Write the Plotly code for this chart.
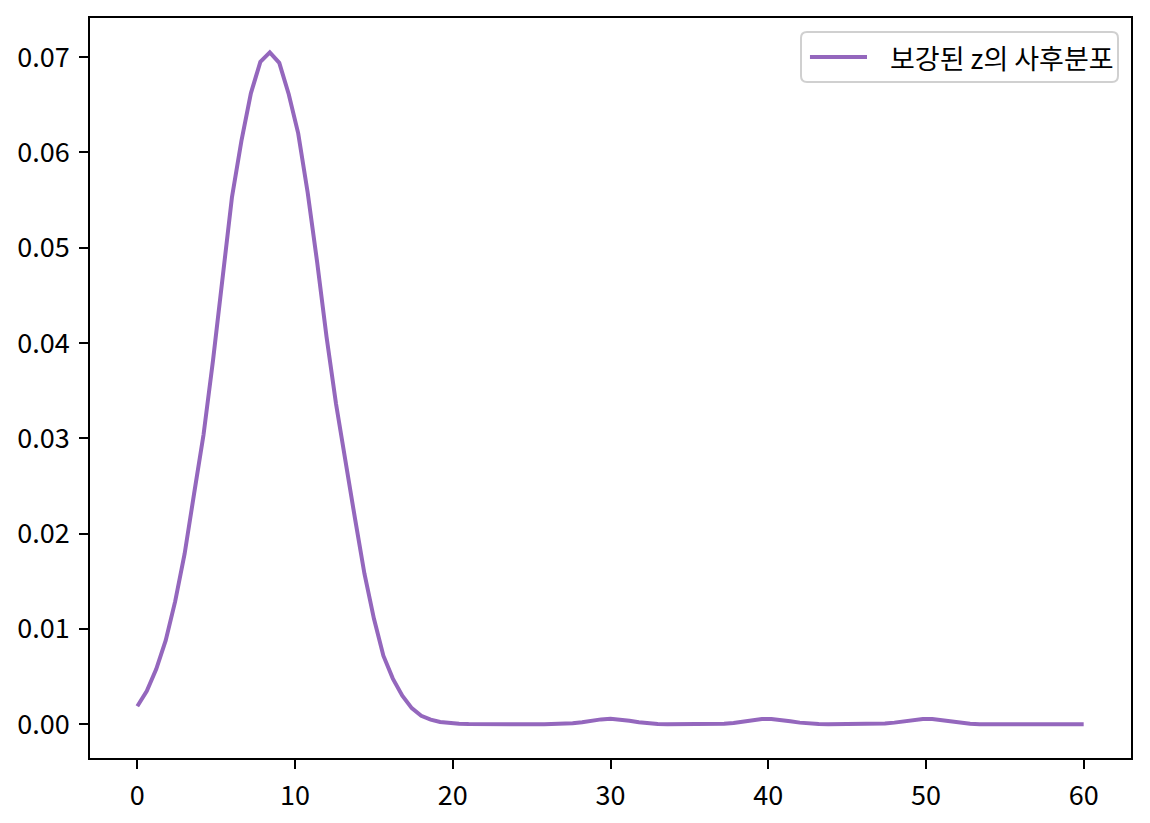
import numpy as np
import plotly.graph_objects as go

# grid of z values (step 0.6 from 0 to 60)
z_values = [round(0.6 * k, 1) for k in range(101)]

# posterior density
posterior = [
    0.0019, 0.0035, 0.0058, 0.0088, 0.0129, 0.0179, 0.0242, 0.0304, 0.0382, 0.0465,
    0.0553, 0.0612, 0.0662, 0.0695, 0.0705, 0.0694, 0.0661, 0.0620, 0.0558, 0.0485,
    0.0406, 0.0336, 0.0273, 0.0216, 0.0158, 0.0111, 0.0072, 0.0048, 0.0030, 0.0017,
    0.0009, 0.0005, 0.00025, 0.00012, 0.00007, 0.00004, 0.00002, 0.00001, 0.000005, 0.000003,
    0.000002, 0.000002, 0.000003, 0.000005, 0.000013, 0.00004, 0.00011, 0.00022, 0.00038, 0.00052,
    0.00058, 0.00052, 0.00038, 0.00022, 0.00011, 0.00004, 0.000013, 0.000004, 0.000002, 0.000003,
    0.00001, 0.00002, 0.00006, 0.00014, 0.00027, 0.00043, 0.00055, 0.00057, 0.00048, 0.00032,
    0.00018, 0.00008, 0.00003, 0.00001, 0.000004, 0.000002, 0.000004, 0.00001, 0.00003, 0.00008,
    0.00018, 0.00032, 0.00048, 0.00057, 0.00055, 0.00043, 0.00027, 0.00014, 0.00006, 0.00002,
    0.00001, 0.000004, 0.000002, 0.000001, 0.000001, 0.000001, 0.000001, 0.000001, 0.000001, 0.000001,
    0.000001,
]

series_name = "보강된 z의 사후분포"
x_ticks = [0, 10, 20, 30, 40, 50, 60]
y_ticks = [0.00, 0.01, 0.02, 0.03, 0.04, 0.05, 0.06, 0.07]

FONT = "Noto Sans CJK KR"
LINE_COLOR = "#9467bd"
fig = go.Figure()
fig.add_trace(go.Scatter(
    x=z_values, y=posterior, mode="lines", name=series_name,
    line=dict(color=LINE_COLOR, width=4),
    showlegend=False,
))

axis_common = dict(
    showgrid=False, zeroline=False, showline=True, linecolor="black", linewidth=1.8,
    mirror=True, ticks="outside", ticklen=9, tickwidth=1.8, tickcolor="black",
    tickfont=dict(family=FONT, size=27, color="black"), automargin=False,
)
fig.update_xaxes(range=[-3, 63], tickvals=x_ticks, ticktext=[str(v) for v in x_ticks],
                 ticklabelstandoff=4, **axis_common)
fig.update_yaxes(range=[-0.00353, 0.0741], tickvals=y_ticks, ticktext=[f"{v:.2f}" for v in y_ticks],
                 ticklabelstandoff=4, **axis_common)

# custom legend box (matplotlib style) in plot-area paper coordinates
PW, PH = 1041.0, 740.0
lx0, lx1 = 0.683, 0.9875
ly0, ly1 = 0.9135, 0.981
rx, ry = 6 / PW, 6 / PH
path = (f"M{lx0+rx},{ly1} L{lx1-rx},{ly1} Q{lx1},{ly1} {lx1},{ly1-ry} "
        f"L{lx1},{ly0+ry} Q{lx1},{ly0} {lx1-rx},{ly0} L{lx0+rx},{ly0} "
        f"Q{lx0},{ly0} {lx0},{ly0+ry} L{lx0},{ly1-ry} Q{lx0},{ly1} {lx0+rx},{ly1} Z")
ymid = (ly0 + ly1) / 2
fig.add_shape(type="path", path=path, xref="paper", yref="paper",
              fillcolor="rgba(255,255,255,0.8)", line=dict(color="#d0d0d0", width=2))
fig.add_shape(type="line", x0=0.6916, x1=0.7464, y0=ymid, y1=ymid, xref="paper", yref="paper",
              line=dict(color=LINE_COLOR, width=4))
fig.add_annotation(x=0.7666, y=ymid, xref="paper", yref="paper", text=series_name,
                   showarrow=False, xanchor="left", yanchor="middle",
                   font=dict(family=FONT, size=27, color="black"))

fig.update_layout(
    width=1142, height=815,
    margin=dict(l=82, r=19, t=10, b=65),
    paper_bgcolor="white", plot_bgcolor="white",
    font=dict(family=FONT, size=27, color="black"),
    showlegend=False,
)

fig.write_html("out.html")
